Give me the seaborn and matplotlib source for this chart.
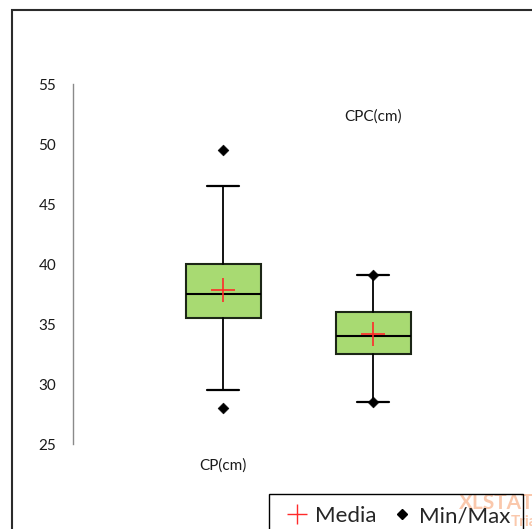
import matplotlib
matplotlib.use("Agg")
import matplotlib.pyplot as plt
import seaborn as sns
import pandas as pd
from matplotlib.patches import Rectangle
from matplotlib.lines import Line2D

# ---- data ----
variables = ["CP(cm)", "CPC(cm)"]
q1 = [35.5, 32.5]
median = [37.5, 34.0]
q3 = [40.0, 36.0]
whisker_low = [29.5, 28.5]
whisker_high = [46.5, 39.1]
means = [37.8, 34.2]
minimum = [28.0, 28.5]
maximum = [49.5, 39.1]
y_ticks = [25, 30, 35, 40, 45, 50, 55]
legend_labels = ["Media", "Min/Max"]

sns.set_style("white")
plt.rcParams["font.family"] = ["Lato", "DejaVu Sans"]

W, H = 532, 529
fig = plt.figure(figsize=(W / 100, H / 100), dpi=100)

# axes: x from px 73 to 532, y from px 84 (55) to 444 (25)
ax = fig.add_axes([73 / W, (H - 444) / H, (W - 73) / W, (444 - 84) / H])
ax.set_ylim(25, 55)
ax.set_xlim(-1.0, 2.06)

stats = []
for i, name in enumerate(variables):
    stats.append(dict(label=name, q1=q1[i], med=median[i], q3=q3[i],
                      whislo=whisker_low[i], whishi=whisker_high[i],
                      mean=means[i], fliers=[]))

box_color = "#A8DA72"
edge = "#1c2616"
ax.bxp(stats, positions=[0, 1], widths=0.5, capwidths=0.207,
       showmeans=False, showfliers=False, patch_artist=True,
       boxprops=dict(facecolor=box_color, edgecolor=edge, linewidth=1.5),
       medianprops=dict(color="black", linewidth=1.5),
       whiskerprops=dict(color="black", linewidth=1.3),
       capprops=dict(color="black", linewidth=1.6))

# means and min/max markers through seaborn
df_mean = pd.DataFrame({"x": [0, 1], "y": means})
sns.scatterplot(data=df_mean, x="x", y="y", marker="+", s=300,
                color="#FF2A2A", linewidth=1.2, ax=ax, zorder=5, legend=False)
df_mm = pd.DataFrame({"x": [0, 1, 0, 1], "y": minimum + maximum})
sns.scatterplot(data=df_mm, x="x", y="y", marker="D", s=30,
                color="black", edgecolor="black", ax=ax, zorder=5,
                legend=False, clip_on=False)

# category labels
ax.text(0, 23.2, variables[0], ha="center", va="center", fontsize=11,
        color="#1a1a1a", clip_on=False)
ax.text(1, 52.3, variables[1], ha="center", va="center", fontsize=11,
        color="#1a1a1a", clip_on=False)

# axis styling
for s in ["top", "right", "bottom"]:
    ax.spines[s].set_visible(False)
ax.spines["left"].set_color("#8a8a8a")
ax.spines["left"].set_linewidth(1.0)
ax.set_yticks(y_ticks)
ax.set_yticklabels([str(t) for t in y_ticks], fontsize=11, color="#1a1a1a")
ax.tick_params(axis="y", direction="inout", length=8, width=1.0,
               color="#8a8a8a", pad=8)
ax.set_xticks([])
ax.set_xlabel("")
ax.set_ylabel("")
ax.patch.set_alpha(0)

# outer chart frame
fig.add_artist(Rectangle((12 / W, -0.2), 1.2, (H - 10) / H + 0.2,
                         transform=fig.transFigure, fill=False,
                         edgecolor="#2b2b2b", linewidth=1.5, zorder=0))

# watermark (trial stamp, faint)
fig.text(459 / W, 1 - 503 / H, "XLSTAT", fontsize=15, fontweight="bold",
         color="#FAC8AC", va="center", ha="left", zorder=1)
fig.text(511 / W, 1 - 522 / H, "Trial", fontsize=11, fontweight="bold",
         color="#FAC8AC", va="center", ha="left", zorder=1)

# legend
handles = [Line2D([], [], linestyle="none", marker="+", markersize=14,
                  markeredgewidth=1.0, color="#FF2A2A"),
           Line2D([], [], linestyle="none", marker="D", markersize=5,
                  color="black")]
leg = fig.legend(handles, legend_labels, loc="upper left",
                 bbox_to_anchor=(269 / W, 1 - 494 / H), ncol=2, fontsize=16,
                 frameon=True, fancybox=False, borderpad=0.55,
                 handlelength=1.4, handletextpad=0.1, columnspacing=0.45,
                 borderaxespad=0)
leg.get_frame().set_edgecolor("black")
leg.get_frame().set_linewidth(1.0)
leg.get_frame().set_alpha(None)
leg.get_frame().set_facecolor((1, 1, 1, 0))

fig.savefig("out.png", dpi=100)
